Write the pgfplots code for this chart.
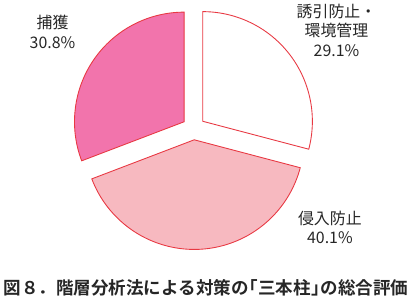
\documentclass[border=0pt]{standalone}
\usepackage{pgfplots}
\usepackage{pgfplotstable}
\pgfplotsset{compat=1.18}
\usepackage{fontspec}
\newfontfamily\cjk{Noto Sans CJK JP}
\newfontfamily\cjkb{Noto Sans CJK JP Bold}
\definecolor{piePink}{HTML}{F274AC}
\definecolor{pieLight}{HTML}{F7B9C0}
\definecolor{pieEdge}{HTML}{E83842}
\pgfplotstableread{
name value
yuin 29.1
shinnyu 40.1
hokaku 30.8
}\piedata
\begin{document}
\begin{tikzpicture}
\pgfplotstablegetelem{0}{value}\of\piedata \let\va\pgfplotsretval
\pgfplotstablegetelem{1}{value}\of\piedata \let\vb\pgfplotsretval
\pgfplotstablegetelem{2}{value}\of\piedata \let\vc\pgfplotsretval
\pgfmathsetmacro{\cx}{190.7}
\pgfmathsetmacro{\cy}{167.5}
\pgfmathsetmacro{\R}{100}
\pgfmathsetmacro{\D}{10.5}
\pgfmathsetmacro{\aA}{90}
\pgfmathsetmacro{\aB}{90-3.6*\va}
\pgfmathsetmacro{\aC}{\aB-3.6*\vb}
\pgfmathsetmacro{\aD}{\aC-3.6*\vc}
\pgfmathsetmacro{\mA}{(\aA+\aB)/2}
\pgfmathsetmacro{\mB}{(\aB+\aC)/2}
\pgfmathsetmacro{\mC}{(\aC+\aD)/2}
\pgfmathsetmacro{\xA}{\cx+\D*cos(\mA)}\pgfmathsetmacro{\yA}{\cy+\D*sin(\mA)}
\pgfmathsetmacro{\xB}{\cx+\D*cos(\mB)}\pgfmathsetmacro{\yB}{\cy+\D*sin(\mB)}
\pgfmathsetmacro{\xC}{\cx+\D*cos(\mC)}\pgfmathsetmacro{\yC}{\cy+\D*sin(\mC)}
\begin{axis}[
  width=412pt, height=296pt, scale only axis,
  xmin=0, xmax=412, ymin=0, ymax=296,
  axis lines=none, clip=false,
]
\addplot[draw=pieEdge, line width=0.8pt, fill=white, domain=\aB:\aA, samples=90, variable=\t, line join=miter]
  ({\xA+\R*cos(t)},{\yA+\R*sin(t)}) -- (axis cs:\xA,\yA) -- cycle;
\addplot[draw=pieEdge, line width=0.8pt, fill=pieLight, domain=\aC:\aB, samples=120, variable=\t, line join=miter]
  ({\xB+\R*cos(t)},{\yB+\R*sin(t)}) -- (axis cs:\xB,\yB) -- cycle;
\addplot[draw=pieEdge, line width=0.8pt, fill=piePink, domain=\aD:\aC, samples=90, variable=\t, line join=miter]
  ({\xC+\R*cos(t)},{\yC+\R*sin(t)}) -- (axis cs:\xC,\yC) -- cycle;
\node[align=center, font=\cjk\fontsize{14.5}{18}\selectfont, text=black!85] at (axis cs:62,255.5) {捕獲\\\vc\%};
\node[align=center, font=\cjk\fontsize{14.5}{18}\selectfont, text=black!85] at (axis cs:321,257) {誘引防止・\\環境管理\\\va\%};
\node[align=center, font=\cjk\fontsize{14.5}{18}\selectfont, text=black!85] at (axis cs:315,77) {侵入防止\\\vb\%};
\node[font=\cjkb\fontsize{16}{18}\selectfont, text=black!85] at (axis cs:202,22) {図８．階層分析法による対策の\kern-0.45em「三本柱」\kern-0.45em の総合評価};
\end{axis}
\end{tikzpicture}
\end{document}
